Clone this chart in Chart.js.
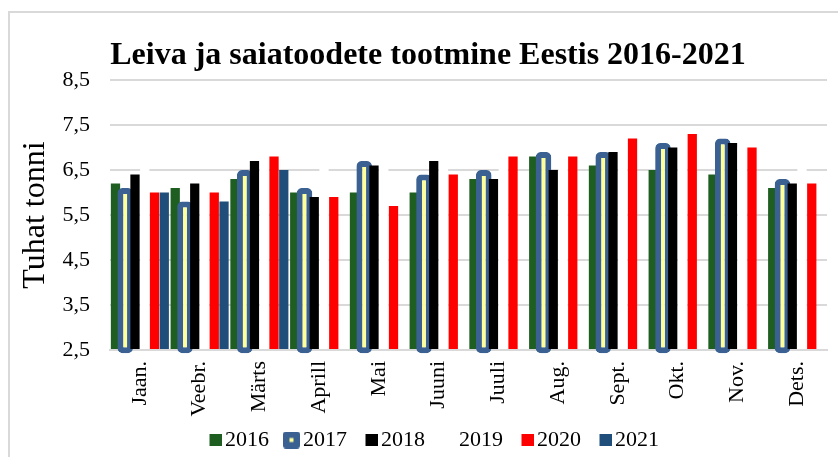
<!DOCTYPE html>
<html>
<head>
<meta charset="utf-8">
<script src="https://cdn.jsdelivr.net/npm/chart.js@4.4.1/dist/chart.umd.min.js"></script>
<style>
html,body{margin:0;padding:0;background:#fff;}
#wrap{position:relative;width:838px;height:457px;overflow:hidden;background:#fff;}
#frame{position:absolute;left:8px;top:11px;width:900px;height:500px;border-left:2px solid #d9d9d9;border-top:2px solid #d9d9d9;}
#c{position:absolute;left:0;top:0;}
</style>
</head>
<body>
<div id="wrap"><div id="frame"></div><canvas id="c" width="838" height="457"></canvas></div>
<script>
// ---- data ----
const months = ['Jaan.', 'Veebr.', 'Märts', 'Aprill', 'Mai', 'Juuni', 'Juuli', 'Aug.', 'Sept.', 'Okt.', 'Nov.', 'Dets.'];
const years = ['2016', '2017', '2018', '2019', '2020', '2021'];
const v2016 = [6.2, 6.1, 6.3, 6.0, 6.0, 6.0, 6.3, 6.8, 6.6, 6.5, 6.4, 6.1];
const v2017 = [6.1, 5.8, 6.5, 6.1, 6.7, 6.4, 6.5, 6.9, 6.9, 7.1, 7.2, 6.3];
const v2018 = [6.4, 6.2, 6.7, 5.9, 6.6, 6.7, 6.3, 6.5, 6.9, 7.0, 7.1, 6.2];
const v2019 = [6.6, 6.4, 6.8, 6.6, 6.8, 6.8, 6.7, 6.8, 7.0, 7.1, 7.0, 6.6];
const v2020 = [6.0, 6.0, 6.8, 5.9, 5.7, 6.4, 6.8, 6.8, 7.2, 7.3, 7.0, 6.2];
const v2021 = [6.0, 5.8, 6.5, null, null, null, null, null, null, null, null, null];
const yMin = 2.5, yMax = 8.5, yStep = 1;

// ---- styles ----
const FONT = 'Liberation Serif';
const C16 = '#1E5E20', C17B = '#3A6191', C17F = '#FFFF99', C18 = '#000000', C19 = '#FFFFFF', C20 = '#FF0000', C21 = '#1F4E7A';
const PW = 17;

function makeIcon(w, h, draw) {
  const c = document.createElement('canvas');
  c.width = w; c.height = h;
  draw(c.getContext('2d'), w, h);
  return c;
}
function boxIcon(color) {
  return makeIcon(PW + 15, 12, (ctx, w, h) => { ctx.fillStyle = color; ctx.fillRect(w - 12, 0, 12, 12); });
}
const icon17 = makeIcon(PW + 16, 17, (ctx, w, h) => {
  const x = w - 17, r = 3;
  ctx.fillStyle = C17B;
  ctx.beginPath();
  ctx.moveTo(x + r, 0); ctx.lineTo(w - r, 0); ctx.quadraticCurveTo(w, 0, w, r);
  ctx.lineTo(w, h - r); ctx.quadraticCurveTo(w, h, w - r, h);
  ctx.lineTo(x + r, h); ctx.quadraticCurveTo(x, h, x, h - r);
  ctx.lineTo(x, r); ctx.quadraticCurveTo(x, 0, x + r, 0);
  ctx.fill();
  ctx.fillStyle = C17F;
  ctx.fillRect(x + 6.5, 6.5, 4, 4);
});
const legendIcons = [boxIcon(C16), icon17, boxIcon(C18), boxIcon(C19), boxIcon(C20), boxIcon(C21)];

const ascendingDraw = {
  id: 'ascendingDraw',
  beforeDatasetsDraw(chart) {
    const metas = chart.getSortedVisibleDatasetMetas();
    for (const m of metas) chart._drawDataset(m);
    return false;
  }
};

new Chart(document.getElementById('c'), {
  type: 'bar',
  data: {
    labels: months,
    datasets: [
      { label: years[0], data: v2016, backgroundColor: C16, base: yMin },
      { label: years[1], data: v2017, backgroundColor: C17F, borderColor: C17B, borderWidth: 6,
        borderRadius: 5, borderSkipped: false, barPercentage: 1.6, base: yMin - 0.07, clip: false },
      { label: years[2], data: v2018, backgroundColor: C18, base: yMin },
      { label: years[3], data: v2019, backgroundColor: C19, base: yMin },
      { label: years[4], data: v2020, backgroundColor: C20, base: yMin },
      { label: years[5], data: v2021, backgroundColor: C21, base: yMin }
    ]
  },
  options: {
    responsive: false,
    animation: false,
    devicePixelRatio: 1,
    layout: { padding: { left: 29, right: 11, top: 0, bottom: 0 } },
    datasets: { bar: { categoryPercentage: 0.98, barPercentage: 0.95 } },
    plugins: {
      tooltip: { enabled: false },
      title: {
        display: true,
        text: 'Leiva ja saiatoodete tootmine Eestis 2016-2021',
        color: '#000',
        font: { family: FONT, size: 32, weight: 'bold' },
        padding: { top: 37, bottom: 4.6 }
      },
      legend: {
        position: 'bottom',
        maxHeight: 34,
        labels: {
          usePointStyle: true,
          pointStyleWidth: PW,
          padding: 6,
          color: '#000',
          font: { family: FONT, size: 22 },
          generateLabels(chart) {
            const items = Chart.defaults.plugins.legend.labels.generateLabels(chart);
            items.forEach((it, i) => { it.pointStyle = legendIcons[i]; it.fontColor = '#000'; });
            return items;
          }
        }
      }
    },
    scales: {
      x: {
        grid: { display: false, drawTicks: false },
        border: { display: true, color: '#d9d9d9', width: 2 },
        ticks: { autoSkip: false, maxRotation: 90, minRotation: 90, padding: 11, color: '#000',
                 font: { family: FONT, size: 22 } },
        afterFit(s) { s.height = 73; }
      },
      y: {
        min: yMin, max: yMax,
        grid: { color: '#d9d9d9', lineWidth: 2, drawTicks: false },
        border: { display: false },
        ticks: { stepSize: yStep, padding: 20, color: '#000', font: { family: FONT, size: 22 },
                 callback: v => Number(v).toFixed(1).replace('.', ',') },
        title: { display: true, text: 'Tuhat tonni', color: '#000', padding: 0,
                 font: { family: FONT, size: 32, lineHeight: 0.406 } },
        afterFit(s) { s.width = 81; }
      }
    }
  },
  plugins: [ascendingDraw]
});
</script>
</body>
</html>
